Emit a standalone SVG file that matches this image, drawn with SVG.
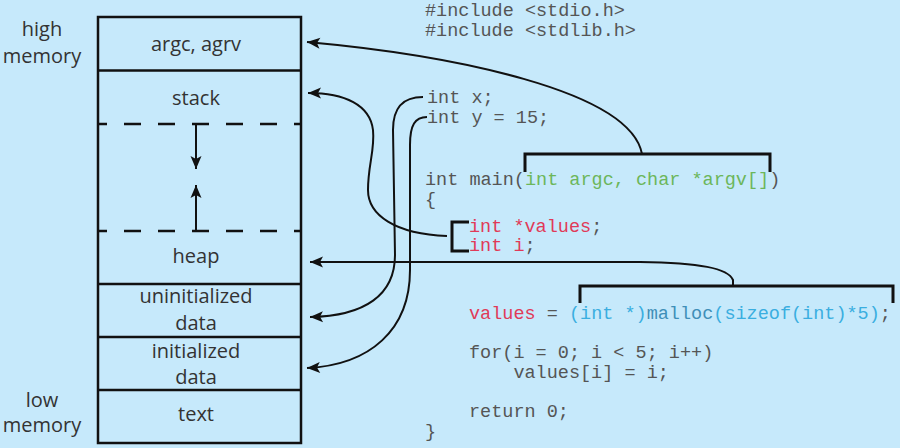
<svg xmlns="http://www.w3.org/2000/svg" width="900" height="448" viewBox="0 0 900 448">
<style>
.lbl{font-family:"Open Sans","Noto Sans",sans-serif;font-size:20px;fill:#333;text-anchor:middle}
.code{font-family:"Liberation Mono","DejaVu Sans Mono",monospace;font-size:18.5px;fill:#555;white-space:pre}
.red{fill:#e03a58}
.grn{fill:#6cb65a}
.cy{fill:#3aaee0}
.cyd{fill:#3f8fb8}
.box{fill:none;stroke:#111;stroke-width:2.5}
.dash{stroke:#111;stroke-width:2.5;stroke-dasharray:17 17;stroke-dashoffset:8}
.con{fill:none;stroke:#111;stroke-width:2}
.brk{fill:none;stroke:#111;stroke-width:3}
</style>
<defs>
<marker id="ah" markerUnits="userSpaceOnUse" markerWidth="16" markerHeight="14" viewBox="-1 -7 16 14" refX="0" refY="0" orient="auto-start-reverse">
<path d="M0,0 L13,-5.5 L10,0 L13,5.5 Z" fill="#111"/>
</marker>
<marker id="ah2" markerUnits="userSpaceOnUse" markerWidth="16" markerHeight="14" viewBox="-14 -7 16 14" refX="0" refY="0" orient="auto">
<path d="M0,0 L-13,-5.5 L-10,0 L-13,5.5 Z" fill="#111"/>
</marker>
</defs>
<rect width="900" height="448" fill="#c6e9fb"/>

<g id="labels">
<text class="lbl" x="42" y="36">high</text>
<text class="lbl" x="42" y="63">memory</text>
<text class="lbl" x="42" y="407">low</text>
<text class="lbl" x="42" y="432">memory</text>
</g>

<g id="memory">
<rect class="box" x="98" y="17" width="203" height="426"/>
<line class="box" x1="98" y1="70.5" x2="301" y2="70.5"/>
<line class="box" x1="98" y1="284" x2="301" y2="284"/>
<line class="box" x1="98" y1="337" x2="301" y2="337"/>
<line class="box" x1="98" y1="390" x2="301" y2="390"/>
<line class="dash" x1="98" y1="124" x2="301" y2="124"/>
<line class="dash" x1="98" y1="231" x2="301" y2="231"/>
</g>
<g id="seg-args"><text class="lbl" x="196" y="51">argc, agrv</text></g>
<g id="seg-stack"><text class="lbl" x="196" y="105">stack</text></g>
<g id="seg-heap"><text class="lbl" x="196" y="263">heap</text></g>
<g id="seg-uninit"><text class="lbl" x="196" y="303">uninitialized</text><text class="lbl" x="196" y="330">data</text></g>
<g id="seg-init"><text class="lbl" x="196" y="358">initialized</text><text class="lbl" x="196" y="384">data</text></g>
<g id="seg-text"><text class="lbl" x="196" y="421">text</text></g>

<g id="code">
<text class="code" x="425" y="16">#include &lt;stdio.h&gt;</text>
<text class="code" x="425" y="36">#include &lt;stdlib.h&gt;</text>
<text class="code" x="427" y="103">int x;</text>
<text class="code" x="427" y="123">int y = 15;</text>
<text class="code" x="425" y="185">int main(<tspan class="grn">int argc, char *argv[]</tspan>)</text>
<text class="code" x="425" y="205">{</text>
<text class="code red" x="469" y="232">int *values<tspan fill="#555">;</tspan></text>
<text class="code red" x="469" y="251">int i<tspan fill="#555">;</tspan></text>
<text class="code" x="469" y="319"><tspan class="red">values</tspan> = <tspan class="cy">(int *)</tspan><tspan class="cyd">malloc</tspan><tspan class="cy">(sizeof(int)*5)</tspan>;</text>
<text class="code" x="469" y="358">for(i = 0; i &lt; 5; i++)</text>
<text class="code" x="469" y="378">    values[i] = i;</text>
<text class="code" x="469" y="417">return 0;</text>
<text class="code" x="425" y="437">}</text>
</g>

<g id="brackets">
<path class="brk" d="M525,172 L525,154 L770,154 L770,172"/>
<path class="brk" d="M469,222 L452,222 L452,251 L469,251"/>
<path class="brk" d="M580,303 L580,286 L893,286 L893,303"/>
</g>

<g id="connectors">
<line class="con" x1="196" y1="124" x2="196" y2="169" marker-end="url(#ah2)"/>
<line class="con" x1="196" y1="231" x2="196" y2="185" marker-end="url(#ah2)"/>
<path class="con" d="M642,154 C630,90 450,55 307,42" marker-end="url(#ah2)"/>
<path class="con" d="M447,236 C395,234 368,215 368,190 C368,165 375,150 373,130 C370,105 345,93 308,93" marker-end="url(#ah2)"/>
<path class="con" d="M733,286 L733,280 C728,268 700,263 640,262 L310,262" marker-end="url(#ah2)"/>
<path class="con" d="M423,97 C402,97 393,108 393,130 L395,255 C395,295 365,316 310,317" marker-end="url(#ah2)"/>
<path class="con" d="M427,117 C415,117 410,125 410,145 L410,270 C410,330 370,365 307,368" marker-end="url(#ah2)"/>
</g>
</svg>
